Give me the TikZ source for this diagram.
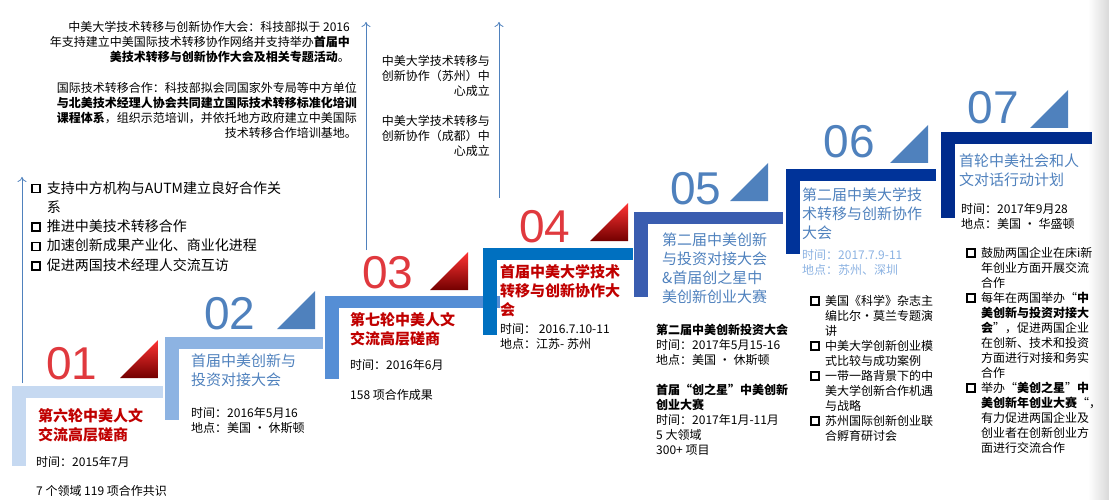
\documentclass[tikz,border=0pt]{standalone}
\usepackage{fontspec}
\setmainfont{Noto Sans CJK SC}
\newfontfamily\numfont{Liberation Sans}
\usetikzlibrary{arrows.meta}
\begin{document}
\begin{tikzpicture}[x=1pt,y=-1pt,
  txt/.style={anchor=north west,inner sep=0pt,align=left,font=\fontsize{12}{15}\selectfont},
  rtxt/.style={anchor=north east,inner sep=0pt,align=right,font=\fontsize{12}{15}\selectfont},
  ttl/.style={anchor=north west,inner sep=0pt,align=left,font=\fontsize{15}{19}\selectfont\bfseries},
  num/.style={anchor=center,inner sep=0pt,font=\fontsize{46}{46}\selectfont\numfont},
  arr/.style={draw=tb,line width=0.8pt,-{To[length=5pt,width=9pt]}}]
\useasboundingbox (0,0) rectangle (1109,500);
\definecolor{c1}{HTML}{C6D9F1}\definecolor{c2}{HTML}{8DB3E2}\definecolor{c3}{HTML}{558ED5}
\definecolor{c4}{HTML}{0070C0}\definecolor{c5}{HTML}{3A5DB0}\definecolor{c6}{HTML}{003399}
\definecolor{c7}{HTML}{002B8C}\definecolor{tb}{HTML}{4F81BD}\definecolor{tr}{HTML}{C00000}
\definecolor{nr}{HTML}{E0393E}
\newcommand{\bx}{\tikz[baseline=-0.5pt]\draw[line width=1.5pt] (0,0) rectangle (8pt,8pt);}
% right shadow
\shade[left color=white,right color=black!15] (1088,0) rectangle (1109,500);
% steps
\foreach \xa/\xb/\ya/\yb/\c in {12/163/386/466/c1,165/323/337/420/c2,325/500/296/379/c3,483/633/248/335/c4,634/783/212/297/c5,786/936/169/254/c6,941/1092/132/218/c7}{
  \fill[\c] (\xa,\ya) rectangle (\xb,\ya+12);
  \fill[\c] (\xa,\ya) rectangle (\xa+14,\yb);
}
% triangles
\foreach \xa/\ya/\s in {120/340/r,277/291/b,430/252/r,590/203/r,730/163/b,890/125/b,1030/90/b}{
  \if r\s
   \shade[top color=red!80,bottom color=red!45!black] (\xa,\ya+38) -- (\xa+38,\ya) -- (\xa+38,\ya+38) -- cycle;
  \else
   \fill[tb] (\xa,\ya+38) -- (\xa+38,\ya) -- (\xa+38,\ya+38) -- cycle;
  \fi
}
% numbers
\node[num,text=nr] (n1) at (72,364) {01};
\node[num,text=tb] (n2) at (230,314) {02};
\node[num,text=nr] (n3) at (388,273) {03};
\node[num,text=nr] (n4) at (545,227) {04};
\node[num,text=tb] (n5) at (696,189) {05};
\node[num,text=tb] (n6) at (849,142) {06};
\node[num,text=tb] (n7) at (993,108) {07};
% arrows
\coordinate (a1s) at (22,383);\coordinate (a1e) at (22,177);
\coordinate (a2s) at (366,250);\coordinate (a2e) at (366,22);
\coordinate (a3s) at (499,198);\coordinate (a3e) at (499,22);
\draw[arr] (a1s) -- (a1e);\draw[arr] (a2s) -- (a2e);\draw[arr] (a3s) -- (a3e);
% top texts
\node[rtxt] (t1) at (350,21) {中美大学技术转移与创新协作大会：科技部拟于 2016\\年支持建立中美国际技术转移协作网络并支持举办\textbf{首届中}\\\textbf{美技术转移与创新协作大会及相关专题活动}。};
\node[rtxt] (t2) at (357,82) {国际技术转移合作：科技部拟会同国家外专局等中方单位\\\textbf{与北美技术经理人协会共同建立国际技术转移标准化培训}\\\textbf{课程体系}，组织示范培训，并依托地方政府建立中美国际\\技术转移合作培训基地。};
\node[rtxt] (t3) at (490,55) {中美大学技术转移与\\创新协作（苏州）中\\心成立};
\node[rtxt] (t4) at (490,115) {中美大学技术转移与\\创新协作（成都）中\\心成立};
\node[anchor=north west,inner sep=0pt,align=left,font=\fontsize{14}{19.3}\selectfont] (lb) at (31,181) {\bx\ \ 支持中方机构与AUTM建立良好合作关\\\phantom{\bx\ \ }系\\\bx\ \ 推进中美技术转移合作\\\bx\ \ 加速创新成果产业化、商业化进程\\\bx\ \ 促进两国技术经理人交流互访};
% step 01
\node[ttl,text=tr] (s1) at (38,408) {第六轮中美人文\\交流高层磋商};
\node[txt] (d1) at (36,456) {时间：2015年7月};
\node[txt] (e1) at (36,485) {7 个领域 119 项合作共识};
% step 02
\node[ttl,text=tb,font=\fontsize{15}{19}\selectfont] (s2) at (191,354) {首届中美创新与\\投资对接大会};
\node[txt] (d2) at (191,407) {时间：2016年5月16\\地点：美国 · 休斯顿};
% step 03
\node[ttl,text=tr] (s3) at (350,312) {第七轮中美人文\\交流高层磋商};
\node[txt] (d3) at (350,359) {时间：2016年6月};
\node[txt] (e3) at (350,389) {158 项合作成果};
% step 04
\node[ttl,text=tr] (s4) at (500,264) {首届中美大学技术\\转移与创新协作大\\会};
\node[txt] (d4) at (500,323) {时间： 2016.7.10-11\\地点：江苏- 苏州};
% step 05
\node[ttl,text=tb,font=\fontsize{15}{19}\selectfont] (s5) at (662,233) {第二届中美创新\\与投资对接大会\\\&首届创之星中\\美创新创业大赛};
\node[txt] (d5) at (656,324) {\textbf{第二届中美创新投资大会}\\时间：2017年5月15-16\\地点：美国 · 休斯顿\\[15pt]\textbf{首届“创之星”中美创新}\\\textbf{创业大赛}\\时间：2017年1月-11月\\5 大领域\\300+ 项目};
% step 06
\node[ttl,text=tb,font=\fontsize{15}{19}\selectfont] (s6) at (802,188) {第二届中美大学技\\术转移与创新协作\\大会};
\node[txt,text=c2] (d6) at (802,249) {时间：2017.7.9-11\\地点：苏州、深圳};
\node[txt] (b6) at (810,295) {\bx\ \ 美国《科学》杂志主\\\phantom{\bx\ \ }编比尔·莫兰专题演\\\phantom{\bx\ \ }讲\\\bx\ \ 中美大学创新创业模\\\phantom{\bx\ \ }式比较与成功案例\\\bx\ \ 一带一路背景下的中\\\phantom{\bx\ \ }美大学创新合作机遇\\\phantom{\bx\ \ }与战略\\\bx\ \ 苏州国际创新创业联\\\phantom{\bx\ \ }合孵育研讨会};
% step 07
\node[ttl,text=tb,font=\fontsize{15}{19}\selectfont] (s7) at (959,154) {首轮中美社会和人\\文对话行动计划};
\node[txt] (d7) at (961,203) {时间：2017年9月28\\地点：美国 · 华盛顿};
\node[txt] (b7) at (966,247) {\bx\ \ 鼓励两国企业在床i新\\\phantom{\bx\ \ }年创业方面开展交流\\\phantom{\bx\ \ }合作\\\bx\ \ 每年在两国举办“\textbf{中}\\\phantom{\bx\ \ }\textbf{美创新与投资对接大}\\\phantom{\bx\ \ }\textbf{会}”，促进两国企业\\\phantom{\bx\ \ }在创新、技术和投资\\\phantom{\bx\ \ }方面进行对接和务实\\\phantom{\bx\ \ }合作\\\bx\ \ 举办“\textbf{美创之星}”\textbf{中}\\\phantom{\bx\ \ }\textbf{美创新年创业大赛}“，\\\phantom{\bx\ \ }有力促进两国企业及\\\phantom{\bx\ \ }创业者在创新创业方\\\phantom{\bx\ \ }面进行交流合作};
\end{tikzpicture}
\end{document}
